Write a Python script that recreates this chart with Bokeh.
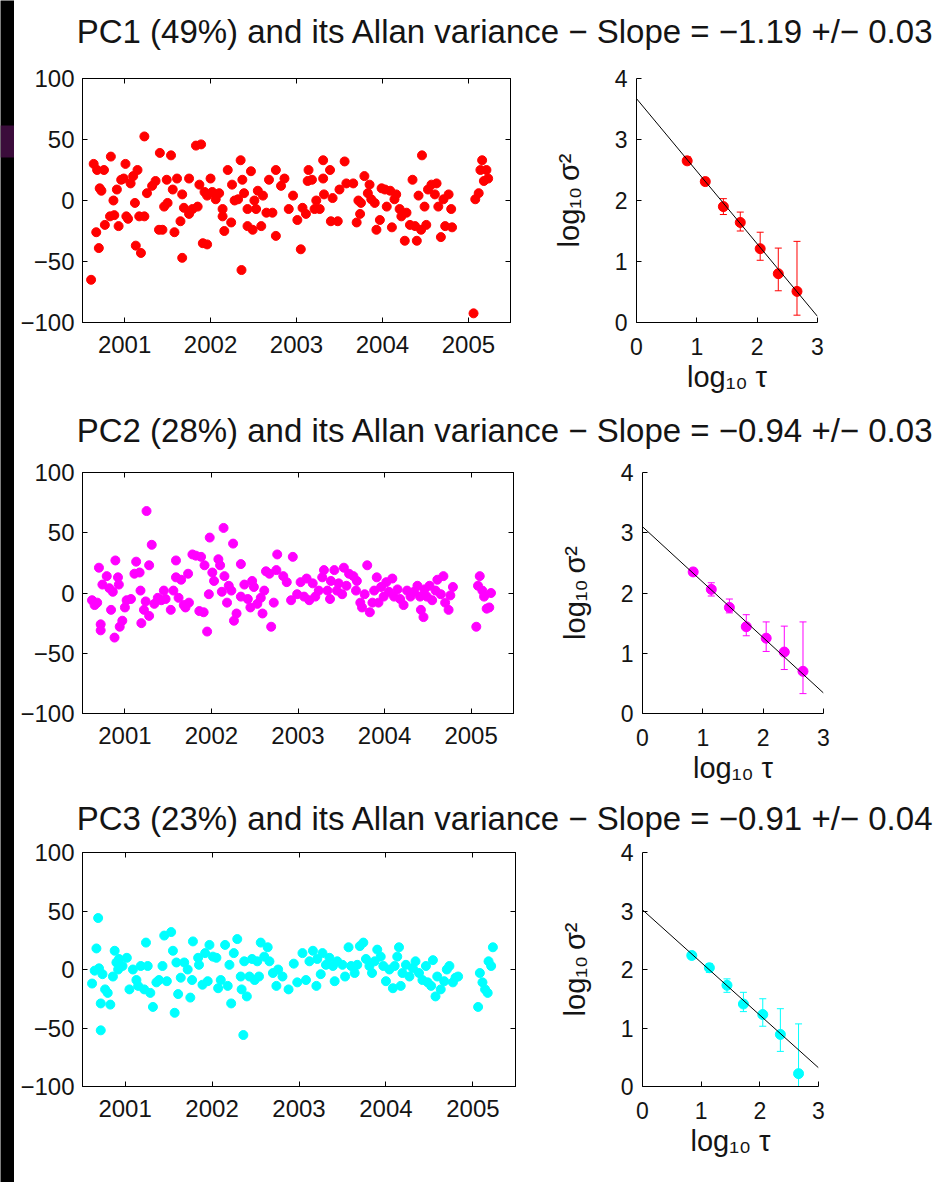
from bokeh.plotting import figure
from bokeh.layouts import row, column
from bokeh.models import (FixedTicker, LinearAxis, Label, Whisker, TeeHead,
                          ColumnDataSource, GlobalInlineStyleSheet)
from bokeh.embed import file_html
from bokeh.resources import INLINE

# ---------------- data ----------------
year_ticks = [2001, 2002, 2003, 2004, 2005]
value_ticks = [-100, -50, 0, 50, 100]
tau_ticks = [0, 1, 2, 3]
sig_ticks = [0, 1, 2, 3, 4]

titles = [
    "PC1 (49%) and its Allan variance \u2212 Slope = \u22121.19 +/\u2212 0.03",
    "PC2 (28%) and its Allan variance \u2212 Slope = \u22120.94 +/\u2212 0.03",
    "PC3 (23%) and its Allan variance \u2212 Slope = \u22120.91 +/\u2212 0.04",
]
x_label = "log\u2081\u2080 \u03c4"
y_label = "log\u2081\u2080\u2009\u03c3\u00b2"
colors = ["#ff0000", "#ff00ff", "#00ffff"]

pc1_t = [2000.61, 2000.64, 2000.68, 2000.67, 2000.70, 2000.71, 2000.73, 2000.76, 2000.84, 2000.77,
         2000.83, 2000.87, 2000.88, 2000.91, 2000.93, 2000.96, 2000.99, 2001.01, 2001.02, 2001.04,
         2001.07, 2001.10, 2001.12, 2001.13, 2001.15, 2001.19, 2001.17, 2001.23, 2001.23, 2001.26,
         2001.32, 2001.36, 2001.41, 2001.40, 2001.44, 2001.46, 2001.49, 2001.50, 2001.54, 2001.56,
         2001.58, 2001.61, 2001.65, 2001.67, 2001.67, 2001.69, 2001.75, 2001.75, 2001.79, 2001.83,
         2001.89, 2001.85, 2001.87, 2001.91, 2001.96, 2001.93, 2001.96, 2002.00, 2002.02, 2002.06,
         2002.10, 2002.14, 2002.14, 2002.16, 2002.20, 2002.24, 2002.25, 2002.28, 2002.32, 2002.35,
         2002.36, 2002.37, 2002.39, 2002.43, 2002.43, 2002.47, 2002.49, 2002.51, 2002.53, 2002.55,
         2002.59, 2002.61, 2002.65, 2002.68, 2002.72, 2002.76, 2002.76, 2002.82, 2002.86, 2002.91,
         2002.96, 2003.01, 2003.05, 2003.07, 2003.11, 2003.14, 2003.13, 2003.18, 2003.21, 2003.23,
         2003.27, 2003.31, 2003.31, 2003.32, 2003.39, 2003.40, 2003.42, 2003.48, 2003.50, 2003.56,
         2003.58, 2003.66, 2003.70, 2003.72, 2003.74, 2003.75, 2003.79, 2003.83, 2003.85, 2003.87,
         2003.91, 2003.93, 2003.97, 2003.99, 2004.03, 2004.05, 2004.09, 2004.11, 2004.14, 2004.16,
         2004.20, 2004.22, 2004.26, 2004.28, 2004.32, 2004.35, 2004.38, 2004.40, 2004.42, 2004.45,
         2004.46, 2004.49, 2004.51, 2004.53, 2004.57, 2004.61, 2004.63, 2004.65, 2004.68, 2004.71,
         2004.73, 2004.77, 2004.80, 2004.81, 2005.06, 2005.08, 2005.12, 2005.14, 2005.16, 2005.18,
         2005.21, 2005.23]
pc1_v = [-65, 30, 25, -26, -39, 10, 8, 25, 36, -20,
         -13, 0, -12, 9, -21, 17, 18, 30, -13, -15,
         14, 20, -2, -37, 25, -43, -13, 52.5, -13, 6,
         12, 16, 39, -24, -24, -5, 17, -2, 37, 9,
         -26, 18, -17, 5, -47, -6, 18, -11, -7, 45,
         46, -5, 13, -35, -36, 7, 4, 18, 7, 1,
         6, -7, -13, -25, 25, -18, 13, 0, 1, 33,
         -57, 17, 6, -7, -21, 24, -24, 0, -7, 8,
         -21, 4, -10, 17, -10, 25, -29, 12, 18, -7,
         4, -16, -40, -6, -11, 25, 16, 17, -7, 0,
         -7, 33, 18, 5, 25, -17, 2, -17, 9, 32,
         14, 14, -18, 0, -11, -2, 20, 6, 13, 1,
         -2, -24, -16, 10, 9, -5, 8, -22, 1, 5,
         -7, -13, -33, -10, -20, 17, -21, -33, 4, -24,
         37, -5, -20, 9, 13, 5, 14, -5, -30, 1,
         -21, 5, -7, -22, -92.5, 1, 6, 25, 33, 16,
         25, 18]

pc2_t = [2000.62, 2000.65, 2000.68, 2000.70, 2000.72, 2000.72, 2000.74, 2000.79, 2000.82, 2000.84,
         2000.86, 2000.88, 2000.89, 2000.92, 2000.93, 2000.94, 2000.97, 2001.00, 2001.02, 2001.07,
         2001.11, 2001.13, 2001.17, 2001.18, 2001.19, 2001.22, 2001.24, 2001.25, 2001.28, 2001.28,
         2001.31, 2001.34, 2001.38, 2001.42, 2001.45, 2001.47, 2001.53, 2001.56, 2001.59, 2001.59,
         2001.62, 2001.65, 2001.68, 2001.70, 2001.73, 2001.74, 2001.78, 2001.82, 2001.86, 2001.88,
         2001.91, 2001.92, 2001.95, 2001.97, 2001.98, 2002.01, 2002.03, 2002.08, 2002.10, 2002.12,
         2002.14, 2002.15, 2002.18, 2002.20, 2002.23, 2002.25, 2002.26, 2002.29, 2002.34, 2002.34,
         2002.38, 2002.42, 2002.45, 2002.47, 2002.49, 2002.53, 2002.57, 2002.59, 2002.61, 2002.63,
         2002.67, 2002.69, 2002.72, 2002.75, 2002.76, 2002.83, 2002.87, 2002.92, 2002.94, 2002.99,
         2003.03, 2003.07, 2003.10, 2003.13, 2003.17, 2003.20, 2003.24, 2003.28, 2003.30, 2003.34,
         2003.37, 2003.38, 2003.42, 2003.45, 2003.47, 2003.51, 2003.53, 2003.56, 2003.59, 2003.64,
         2003.67, 2003.68, 2003.72, 2003.74, 2003.77, 2003.80, 2003.83, 2003.86, 2003.88, 2003.91,
         2003.93, 2003.96, 2003.99, 2004.02, 2004.05, 2004.09, 2004.11, 2004.15, 2004.18, 2004.22,
         2004.26, 2004.30, 2004.34, 2004.38, 2004.41, 2004.42, 2004.45, 2004.46, 2004.49, 2004.52,
         2004.55, 2004.59, 2004.61, 2004.65, 2004.68, 2004.70, 2004.74, 2004.76, 2004.79, 2005.06,
         2005.08, 2005.10, 2005.13, 2005.15, 2005.18, 2005.21, 2005.23]
pc2_v = [-6, -10, -8, 21, -26, -31, 7, 14, 4, -14,
         1, -37, 27, 13, 7, -28, -23, -12, -6, -5,
         16, 26, 17, 2, -25, -14, -7, 68, 23, -19,
         40, -9, -4, -6, 2, -5, -14, 2, 27, 13,
         -4, 11, -10, -12, 16, -8, 32, 31, -15, 30,
         -16, 23, -32, -1, 46, 17, 10, 28, 23, 1,
         54, 14, -8, 6, 2, 41, -23, -17, 24, -3,
         7, -5, -12, 10, 5, -9, -4, -17, 2, 18,
         16, -28, -8, 19, 32, 14, 9, -6, 30, -1,
         9, -3, 12, -6, 8, -3, 2, 13, 19, 2,
         -5, 10, 19, 2, 8, -1, 21, 6, 16, 14,
         2, 10, -8, -12, -1, 23, -16, -8, 2, 13,
         -8, 5, -3, 9, 1, 12, -3, 3, -5, -10,
         2, -3, 1, 6, -3, -14, -20, 3, -3, 6,
         -6, 2, 11, -1, 14, -8, -14, -2, 5, -28,
         6, 14, 2, -3, -13, -12, 0]

pc3_t = [2000.62, 2000.65, 2000.67, 2000.69, 2000.70, 2000.72, 2000.72, 2000.74, 2000.77, 2000.80,
         2000.83, 2000.86, 2000.88, 2000.90, 2000.92, 2000.93, 2000.97, 2001.02, 2001.05, 2001.09,
         2001.13, 2001.15, 2001.18, 2001.22, 2001.24, 2001.26, 2001.29, 2001.32, 2001.36, 2001.39,
         2001.43, 2001.45, 2001.48, 2001.53, 2001.55, 2001.57, 2001.59, 2001.61, 2001.64, 2001.68,
         2001.72, 2001.75, 2001.77, 2001.78, 2001.84, 2001.85, 2001.89, 2001.92, 2001.95, 2001.97,
         2002.01, 2002.05, 2002.07, 2002.10, 2002.15, 2002.18, 2002.20, 2002.22, 2002.25, 2002.29,
         2002.33, 2002.34, 2002.36, 2002.37, 2002.40, 2002.43, 2002.46, 2002.49, 2002.52, 2002.54,
         2002.56, 2002.60, 2002.64, 2002.66, 2002.70, 2002.74, 2002.76, 2002.81, 2002.88, 2002.94,
         2002.98, 2003.04, 2003.08, 2003.12, 2003.16, 2003.20, 2003.21, 2003.25, 2003.27, 2003.31,
         2003.35, 2003.39, 2003.41, 2003.44, 2003.50, 2003.53, 2003.57, 2003.60, 2003.64, 2003.67,
         2003.70, 2003.74, 2003.77, 2003.81, 2003.84, 2003.87, 2003.90, 2003.94, 2003.97, 2004.00,
         2004.04, 2004.08, 2004.10, 2004.13, 2004.15, 2004.17, 2004.19, 2004.23, 2004.27, 2004.31,
         2004.34, 2004.38, 2004.42, 2004.46, 2004.48, 2004.52, 2004.54, 2004.57, 2004.59, 2004.63,
         2004.67, 2004.70, 2004.73, 2004.77, 2004.80, 2004.83, 2005.06, 2005.08, 2005.11, 2005.14,
         2005.17, 2005.18, 2005.21, 2005.23]
pc3_v = [-12, -1, 18, 44, 1, -29, -52, -4, -17, -20,
         -30, -6, 16, 6, 0, 9, 3, 10, -17, 0,
         -9, -14, 3, -17, 23, 3, -20, -32, -11, -9,
         3, 29, -10, 32, 16, -37, 6, -21, -7, 6,
         0, -24, -9, 24, 10, 4, -13, 14, -10, 21,
         11, 10, -16, -9, 21, -14, 4, -29, 14, 26,
         -6, -17, -56, 7, -23, -6, 9, -9, 7, -6,
         23, 11, 19, 7, -3, -14, 0, -6, -17, 5,
         -11, 14, -9, 7, 16, -14, 9, -4, 14, 4,
         10, 3, -10, 7, 4, -6, 19, 3, -3, 4,
         20, 23, 9, 3, -3, 7, 17, 11, 3, -10,
         0, -16, 3, 11, 19, -14, -3, 4, -6, 1,
         7, -3, -9, 3, -11, -14, 8, -23, -6, -17,
         -10, 0, 3, -11, -7, -6, -32, -3, -11, -17,
         -20, 7, 3, 19]

log_tau = [0.84, 1.14, 1.44, 1.72, 2.05, 2.35, 2.66]
av1 = [2.65, 2.31, 1.90, 1.64, 1.21, 0.80, 0.51]
av1_lo = [2.60, 2.26, 1.77, 1.50, 1.02, 0.52, 0.12]
av1_hi = [2.72, 2.37, 2.03, 1.81, 1.48, 1.22, 1.33]
av2 = [2.35, 2.06, 1.76, 1.44, 1.25, 1.02, 0.70]
av2_lo = [2.29, 1.95, 1.67, 1.29, 1.03, 0.73, 0.33]
av2_hi = [2.41, 2.17, 1.90, 1.64, 1.52, 1.45, 1.52]
av3 = [2.24, 2.03, 1.73, 1.41, 1.23, 0.89, 0.22]
av3_lo = [2.18, 1.95, 1.61, 1.28, 1.03, 0.60, 0.00]
av3_hi = [2.30, 2.10, 1.84, 1.61, 1.50, 1.33, 1.07]
fit_intercept = [3.67, 3.10, 3.02]
fit_slope = [-1.19, -0.92, -0.90]
fit_x = [0, 3]

# ---------------- style / geometry (page pixels) ----------------
FONT = "Liberation Sans"
TXT = "#141414"
TITLE_SIZE = 33
# each row: page top/bottom, common frame top/height, TS frame (left, width), AV frame (left, width)
rows_geo = [
    dict(r0=60, r1=408, ft=78, fh=244, ts=(82, 428), av=(636, 181)),
    dict(r0=455, r1=800, ft=472, fh=241, ts=(82, 431), av=(642, 181)),
    dict(r0=837, r1=1182, ft=852, fh=234, ts=(82, 433), av=(642, 176)),
]
titles_geo = [(5, 60, 42), (408, 455, 441.5), (800, 837, 829.5)]  # top, bottom, baseline
X_TS0, X_AV0, X_END = 14, 540, 948


def style_axis(ax, fs, standoff, show_labels=True):
    ax.major_tick_in = 5
    ax.major_tick_out = 0
    ax.minor_tick_line_color = None
    ax.axis_line_color = "black"
    ax.axis_line_width = 1
    ax.major_tick_line_color = "black"
    ax.major_label_text_font = FONT
    ax.major_label_standoff = standoff
    if show_labels:
        ax.major_label_text_font_size = fs
        ax.major_label_text_color = TXT
    else:
        ax.major_label_text_font_size = "1px"
        ax.major_label_text_color = None
        ax.major_label_standoff = 0


def page_fig(x0, x1, y0, y1, bg="white"):
    """A plain figure whose data coordinates are page pixels (y downward)."""
    p = figure(width=x1 - x0, height=y1 - y0, x_range=(x0, x1), y_range=(y1, y0),
               x_axis_type=None, y_axis_type=None, toolbar_location=None, tools="",
               output_backend="svg", min_border=0, title=None)
    p.outline_line_color = None
    p.background_fill_color = bg
    p.border_fill_color = bg
    return p


def borders(g, fl, fw, x0, x1):
    top = g["ft"] - g["r0"]
    bottom = (g["r1"] - g["r0"]) - top - g["fh"]
    left = fl - x0
    right = (x1 - x0) - left - fw
    return dict(min_border_left=left, min_border_right=right,
                min_border_top=top, min_border_bottom=bottom)


def make_ts(t, v, color, g):
    fl, fw = g["ts"]
    p = figure(frame_width=fw, frame_height=g["fh"], **borders(g, fl, fw, X_TS0, X_AV0),
               x_range=(2000.51, 2005.49), y_range=(-100, 100), title=None,
               toolbar_location=None, tools="", output_backend="svg")
    p.grid.visible = False
    p.outline_line_color = "black"
    p.background_fill_color = "white"
    p.border_fill_color = "white"
    p.xaxis.ticker = FixedTicker(ticks=year_ticks)
    p.yaxis.ticker = FixedTicker(ticks=value_ticks)
    p.yaxis.major_label_overrides = {-100: "\u2212100", -50: "\u221250"}
    style_axis(p.xaxis[0], "24px", 13)
    style_axis(p.yaxis[0], "24px", 8)
    top_ax = LinearAxis(ticker=FixedTicker(ticks=year_ticks))
    right_ax = LinearAxis(ticker=FixedTicker(ticks=value_ticks))
    style_axis(top_ax, "1px", 0, show_labels=False)
    style_axis(right_ax, "1px", 0, show_labels=False)
    p.add_layout(top_ax, "above")
    p.add_layout(right_ax, "right")
    p.scatter(t, v, size=9, marker="circle", fill_color=color, line_color=color)
    return p


def make_av(av, lo, hi, a, b, color, g):
    fl, fw = g["av"]
    p = figure(frame_width=fw, frame_height=g["fh"], **borders(g, fl, fw, X_AV0, X_END),
               x_range=(0, 3), y_range=(0, 4), title=None,
               toolbar_location=None, tools="", output_backend="svg")
    p.grid.visible = False
    p.outline_line_color = None
    p.background_fill_color = "white"
    p.border_fill_color = "white"
    p.xaxis.ticker = FixedTicker(ticks=tau_ticks)
    p.yaxis.ticker = FixedTicker(ticks=sig_ticks)
    style_axis(p.xaxis[0], "23px", 15)
    style_axis(p.yaxis[0], "23px", 9)
    for ax, lab, so in ((p.xaxis[0], x_label, 3), (p.yaxis[0], y_label, 27)):
        ax.axis_label = lab
        ax.axis_label_text_font = FONT
        ax.axis_label_text_font_size = "29px"
        ax.axis_label_text_font_style = "normal"
        ax.axis_label_text_color = TXT
        ax.axis_label_standoff = so

    src = ColumnDataSource(dict(x=log_tau, y=av, lo=lo, hi=hi))
    w = Whisker(source=src, base="x", lower="lo", upper="hi", dimension="height",
                line_color=color, line_width=1, level="underlay",
                upper_head=TeeHead(size=7, line_color=color, line_width=1),
                lower_head=TeeHead(size=7, line_color=color, line_width=1))
    p.add_layout(w)
    p.scatter("x", "y", source=src, size=10, marker="circle",
              fill_color=color, line_color=color)
    p.line(fit_x, [a + b * x for x in fit_x], line_color="black", line_width=1)
    return p


# left black strip with a purple patch
strip = page_fig(0, 14, 0, 1182, bg="black")
strip.quad(left=[0], right=[14], top=[125], bottom=[157], fill_color="#3b0c3b", line_color=None)

# top black band with a faint orange glow
band = page_fig(14, 948, 0, 5, bg="black")
glow_left = [300, 360, 420, 480, 540, 600]
glow_right = [360, 420, 480, 540, 600, 626]
glow_col = ["#110800", "#1d0e00", "#2a1400", "#371b00", "#432200", "#4a2600"]
band.quad(left=glow_left, right=glow_right, top=0, bottom=5, fill_color=glow_col, line_color=None)

series = [(pc1_t, pc1_v, av1, av1_lo, av1_hi),
          (pc2_t, pc2_v, av2, av2_lo, av2_hi),
          (pc3_t, pc3_v, av3, av3_lo, av3_hi)]

children = [band]
mid_shift = (0.905 - 0.5585) * TITLE_SIZE  # baseline -> vertical middle of text box
for i, (t, v, av, lo, hi) in enumerate(series):
    g = rows_geo[i]
    t0, t1, base = titles_geo[i]
    tf = page_fig(X_TS0, X_END, t0, t1)
    tf.add_layout(Label(x=505, y=base - mid_shift, text=titles[i], text_align="center",
                        text_baseline="middle", text_font=FONT,
                        text_font_size="%dpx" % TITLE_SIZE, text_color=TXT))
    children.append(tf)
    ts = make_ts(t, v, colors[i], g)
    avp = make_av(av, lo, hi, fit_intercept[i], fit_slope[i], colors[i], g)
    children.append(row(ts, avp, spacing=0))

right_col = column(*children, spacing=0)
root = row(strip, right_col, spacing=0)
root.stylesheets = [GlobalInlineStyleSheet(
    css="html, body { margin: 0 !important; padding: 0; background: #fff; overflow: hidden; }")]

open("out.html", "w").write(file_html(root, INLINE))
